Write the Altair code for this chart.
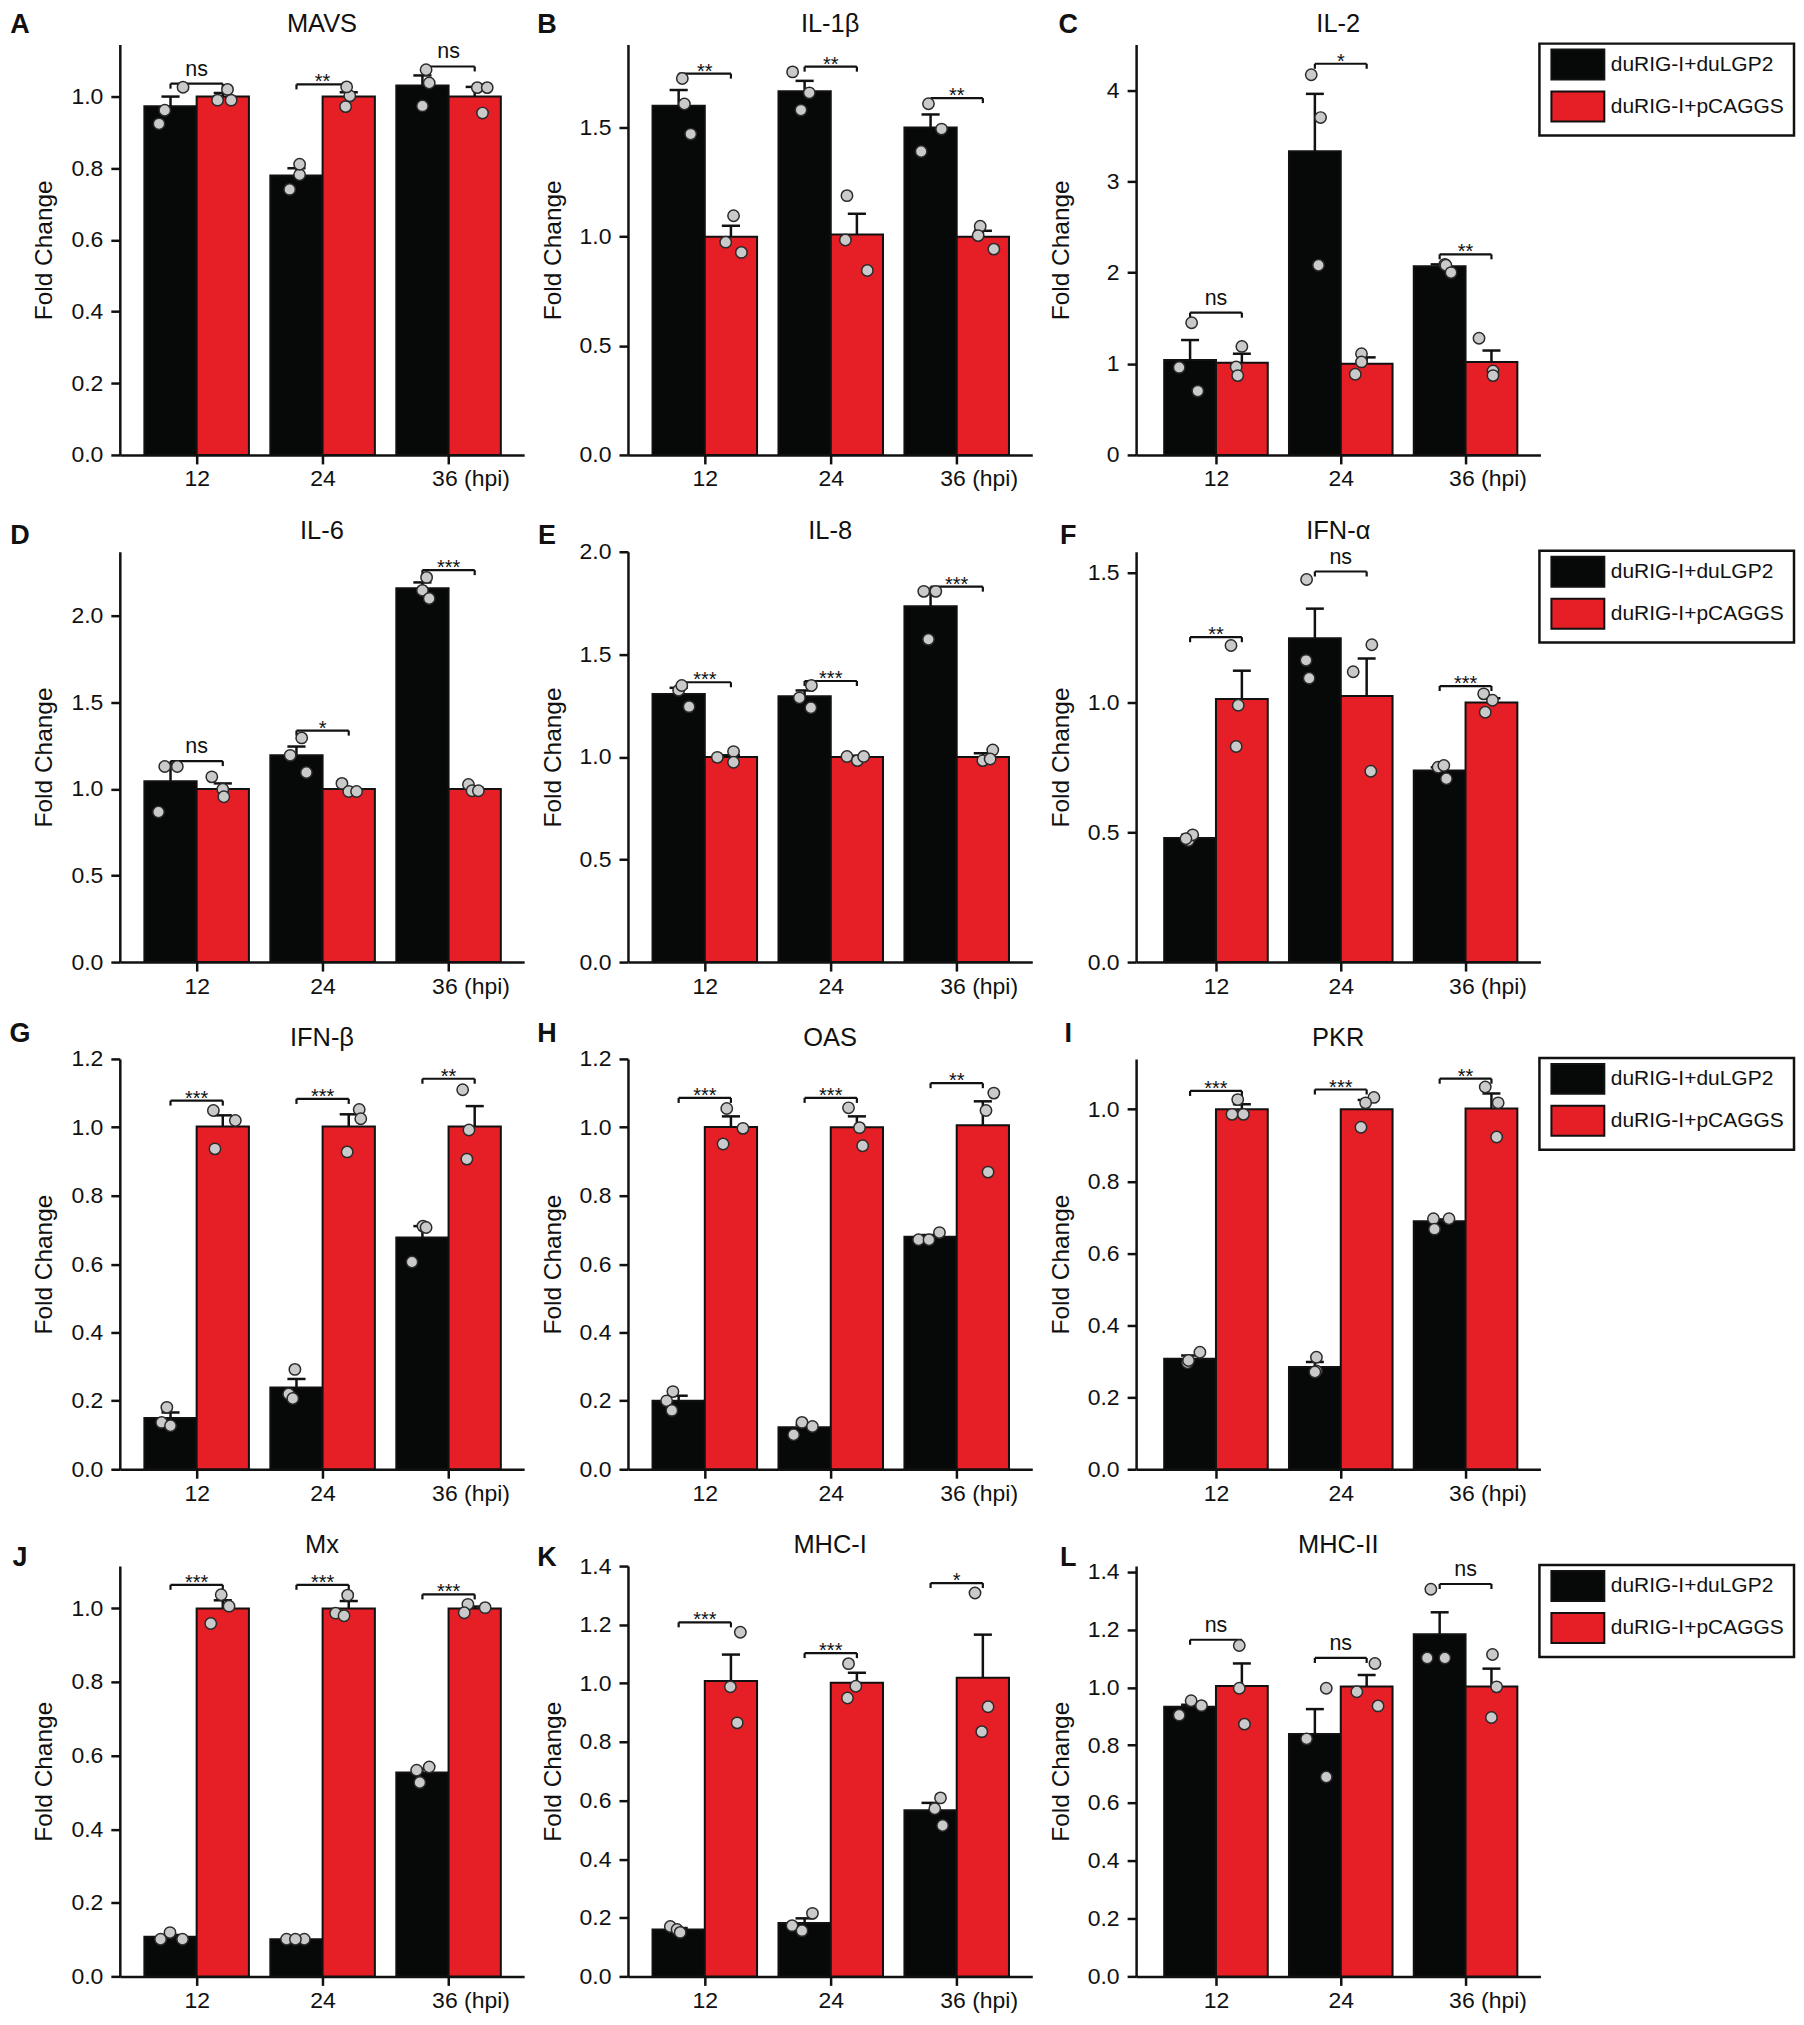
import altair as alt
import pandas as pd

FONT = "Liberation Sans"

letters = ["A", "B", "C", "D", "E", "F", "G", "H", "I", "J", "K", "L"]
genes = ["MAVS", "IL-1β", "IL-2", "IL-6", "IL-8", "IFN-α",
         "IFN-β", "OAS", "PKR", "Mx", "MHC-I", "MHC-II"]
times = ["12", "24", "36 (hpi)"]
series = ["duRIG-I+duLGP2", "duRIG-I+pCAGGS"]

y_max = [1.145, 1.88, 4.5, 2.37, 2.0, 1.58, 1.2, 1.2, 1.14, 1.115, 1.4, 1.42]
y_step = [0.2, 0.5, 1, 0.5, 0.5, 0.5, 0.2, 0.2, 0.2, 0.2, 0.2, 0.2]

mean_black = [
    [0.973, 0.78, 1.031], [1.60, 1.666, 1.50], [1.04, 3.33, 2.07],
    [1.045, 1.194, 2.159], [1.307, 1.296, 1.734], [0.478, 1.247, 0.738],
    [0.15, 0.239, 0.678], [0.20, 0.123, 0.68], [0.307, 0.284, 0.689],
    [0.1075, 0.101, 0.554], [0.16, 0.182, 0.567], [0.933, 0.839, 1.184],
]
sem_black = [
    [0.027, 0.02, 0.028], [0.072, 0.048, 0.06], [0.22, 0.63, 0.02],
    [0.10, 0.051, 0.034], [0.03, 0.028, 0.066], [0.012, 0.114, 0.012],
    [0.016, 0.025, 0.033], [0.015, 0.007, 0.005], [0.009, 0.014, 0.005],
    [0.005, 0.003, 0.01], [0.005, 0.016, 0.025], [0.007, 0.086, 0.076],
]
mean_red = [
    [1.0, 1.0, 1.0], [1.0, 1.01, 1.0], [1.01, 1.0, 1.02],
    [1.0, 1.0, 1.0], [1.0, 1.0, 1.0], [1.013, 1.025, 1.0],
    [1.002, 1.002, 1.002], [1.001, 1.0, 1.006], [1.0, 1.0, 1.002],
    [1.0, 1.0, 1.0], [1.008, 1.002, 1.019], [1.005, 1.003, 1.003],
]
sem_red = [
    [0.01, 0.012, 0.027], [0.05, 0.095, 0.027], [0.10, 0.07, 0.125],
    [0.032, 0.006, 0.006], [0.008, 0.006, 0.018], [0.109, 0.144, 0.016],
    [0.033, 0.036, 0.06], [0.031, 0.032, 0.07], [0.014, 0.026, 0.042],
    [0.022, 0.02, 0.005], [0.09, 0.034, 0.147], [0.078, 0.04, 0.062],
]

# individual replicates (3 per bar)
pts_black = [
    [[0.924, 0.962, 1.026], [0.741, 0.782, 0.811], [0.974, 1.038, 1.075]],
    [[1.725, 1.608, 1.47], [1.755, 1.659, 1.58], [1.609, 1.493, 1.39]],
    [[1.45, 0.96, 0.70], [4.17, 3.70, 2.08], [2.09, 2.08, 2.0]],
    [[0.867, 1.13, 1.13], [1.095, 1.194, 1.295], [2.222, 2.147, 2.10]],
    [[1.245, 1.325, 1.348], [1.24, 1.288, 1.348], [1.573, 1.807, 1.807]],
    [[0.468, 0.49, 0.475], [1.473, 1.162, 1.093], [0.75, 0.757, 0.706]],
    [[0.181, 0.137, 0.127], [0.292, 0.22, 0.207], [0.711, 0.707, 0.606]],
    [[0.227, 0.2, 0.172], [0.137, 0.125, 0.101], [0.671, 0.671, 0.692]],
    [[0.325, 0.296, 0.302], [0.311, 0.273, 0.27], [0.696, 0.696, 0.667]],
    [[0.101, 0.119, 0.101], [0.101, 0.101, 0.101], [0.56, 0.569, 0.527]],
    [[0.17, 0.16, 0.15], [0.215, 0.173, 0.156], [0.609, 0.572, 0.515]],
    [[0.904, 0.954, 0.937], [0.997, 0.822, 0.69], [1.34, 1.102, 1.102]],
]
pts_red = [
    [[0.99, 0.99, 1.02], [0.972, 1.002, 1.027], [0.954, 1.025, 1.025]],
    [[1.096, 0.975, 0.928], [1.188, 0.985, 0.845], [1.048, 1.005, 0.943]],
    [[1.19, 0.965, 0.87], [1.11, 1.02, 0.885], [1.28, 0.92, 0.87]],
    [[1.07, 0.998, 0.955], [1.032, 0.985, 0.985], [1.026, 0.99, 0.99]],
    [[0.998, 1.026, 0.974], [1.002, 0.982, 1.002], [1.034, 0.982, 0.99]],
    [[1.219, 0.989, 0.83], [1.222, 1.118, 0.735], [1.033, 1.008, 0.962]],
    [[1.049, 1.02, 0.937], [1.052, 1.025, 0.928], [1.11, 0.992, 0.907]],
    [[1.055, 0.997, 0.951], [1.057, 0.999, 0.946], [1.10, 1.049, 0.869]],
    [[1.027, 0.986, 0.986], [1.033, 1.018, 0.95], [1.062, 1.018, 0.923]],
    [[1.037, 1.006, 0.959], [1.036, 0.987, 0.98], [1.011, 1.002, 0.988]],
    [[1.174, 0.988, 0.865], [1.067, 0.99, 0.95], [1.308, 0.92, 0.835]],
    [[1.145, 0.997, 0.873], [1.083, 0.985, 0.936], [1.114, 1.002, 0.896]],
]

# horizontal spread of the replicate dots, as a fraction of a bar's width
jit_black = [
    [[-0.22, -0.11, 0.24], [-0.13, 0.06, 0.06], [0, 0.13, 0.07]],
    [[0.07, 0.11, 0.23], [-0.23, 0.09, -0.07], [-0.04, 0.21, -0.18]],
    [[0.03, -0.21, 0.15], [-0.07, 0.11, 0.07], [0.1, 0.12, 0.22]],
    [[-0.23, -0.11, 0.13], [0.19, -0.12, 0.1], [0.08, 0, 0.13]],
    [[0.2, 0, 0.06], [0.12, -0.1, 0.13], [-0.04, -0.13, 0.1]],
    [[-0.03, 0.05, -0.08], [-0.16, -0.17, -0.11], [-0.03, 0.08, 0.13]],
    [[-0.07, -0.17, 0], [-0.03, -0.15, -0.07], [0.01, 0.07, -0.2]],
    [[-0.11, -0.23, -0.13], [-0.05, 0.15, -0.21], [-0.23, -0.03, 0.17]],
    [[0.19, -0.05, -0.03], [0.03, 0.03, 0], [-0.12, 0.18, -0.1]],
    [[-0.19, -0.01, 0.23], [-0.19, 0.15, -0.02], [-0.11, 0.13, -0.05]],
    [[-0.16, -0.03, 0.03], [0.15, -0.24, -0.05], [0.19, 0.08, 0.23]],
    [[-0.21, 0.02, 0.22], [0.22, -0.16, 0.22], [-0.17, -0.24, 0.1]],
]
jit_red = [
    [[-0.1, 0.16, 0.09], [-0.06, 0.02, -0.04], [0.15, 0.05, 0.24]],
    [[0.05, -0.1, 0.2], [-0.19, -0.22, 0.2], [-0.05, -0.09, 0.21]],
    [[0, -0.11, -0.08], [-0.1, -0.1, -0.22], [-0.24, 0.03, 0.03]],
    [[-0.21, 0, 0.02], [-0.13, 0, 0.15], [-0.12, -0.05, 0.07]],
    [[-0.26, 0.05, 0.05], [-0.19, 0.01, 0.13], [0.19, 0, 0.14]],
    [[-0.21, -0.07, -0.11], [0.1, -0.26, 0.08], [-0.15, 0.02, -0.12]],
    [[-0.18, 0.24, -0.15], [0.2, 0.23, -0.03], [-0.23, -0.11, -0.15]],
    [[-0.08, 0.23, -0.15], [-0.16, 0.05, 0.11], [0.21, 0.06, 0.1]],
    [[-0.08, -0.19, 0.03], [0.14, -0.02, -0.11], [-0.12, 0.13, 0.1]],
    [[-0.03, 0.12, -0.23], [-0.02, -0.25, -0.09], [-0.13, 0.2, -0.2]],
    [[0.18, -0.01, 0.12], [-0.16, -0.02, -0.18], [-0.15, 0.1, -0.02]],
    [[-0.05, -0.05, 0.05], [0.16, -0.19, 0.22], [0.02, 0.1, 0]],
]

bracket_y = [
    [1.036, 1.034, 1.084], [1.747, 1.779, 1.635], [1.56, 4.29, 2.2],
    [1.161, 1.337, 2.264], [1.364, 1.37, 1.83], [1.251, 1.504, 1.063],
    [1.078, 1.083, 1.142], [1.086, 1.086, 1.129], [1.051, 1.055, 1.085],
    [1.064, 1.064, 1.038], [1.208, 1.103, 1.342], [1.165, 1.102, 1.358],
]
sig = [
    ["ns", "**", "ns"], ["**", "**", "**"], ["ns", "*", "**"],
    ["ns", "*", "***"], ["***", "***", "***"], ["**", "ns", "***"],
    ["***", "***", "**"], ["***", "***", "**"], ["***", "***", "**"],
    ["***", "***", "***"], ["***", "***", "*"], ["ns", "ns", "ns"],
]

# ---- layout / style -------------------------------------------------------
BAR_W = 0.415
CAP = 0.072
H = 411
W = 405
X_MIN = [-0.61, -0.61, -0.64]
X_MAX = 2.6
LETTER_DX = [-100, -81, -68]
LETTER_DY = [-20, -16, -25, -8]
COLORS = ["#070808", "#E61E25"]
INK = "#111111"


def panel(k):
    r, c = divmod(k, 3)
    w = W
    ymax = y_max[k]
    groups = [(mean_black, sem_black, pts_black, jit_black),
              (mean_red, sem_red, pts_red, jit_red)]
    bar_rows, pt_rows, br_rows, drop_rows = [], [], [], []
    drop = 5.0 * ymax / H
    for t in range(3):
        for s, (means, sems, pts, jit) in enumerate(groups):
            x0 = t - BAR_W + s * BAR_W
            xc = x0 + BAR_W / 2
            m = means[k][t]
            e = sems[k][t]
            bar_rows.append(dict(series=series[s], x0=x0, x1=x0 + BAR_W, xc=xc,
                                 c0=xc - CAP, c1=xc + CAP, mean=m, top=m + e,
                                 base=0.0))
            for j in range(3):
                pt_rows.append(dict(series=series[s],
                                    x=xc + jit[k][t][j] * BAR_W,
                                    y=pts[k][t][j]))
        by = bracket_y[k][t]
        xl, xr = t - BAR_W / 2, t + BAR_W / 2
        br_rows.append(dict(xl=xl, xr=xr, xm=float(t), y=by, label=sig[k][t]))
        drop_rows.append(dict(x=xl, y=by, y2=by - drop))
        drop_rows.append(dict(x=xr, y=by, y2=by - drop))

    bar_df = pd.DataFrame(bar_rows)
    pt_df = pd.DataFrame(pt_rows)
    br_df = pd.DataFrame(br_rows)
    drop_df = pd.DataFrame(drop_rows)

    xs = alt.Scale(domain=[X_MIN[c], X_MAX], nice=False, zero=False)
    ys = alt.Scale(domain=[0, ymax], nice=False, zero=False)
    n_ticks = int(ymax / y_step[k] + 1e-9) + 1
    ticks = [round(i * y_step[k], 3) for i in range(n_ticks)]
    fmt = "d" if y_step[k] >= 1 else ".1f"

    label_expr = (f"datum.value == 0 ? '{times[0]}' : "
                  f"(datum.value == 1 ? '{times[1]}' : '{times[2]}')")
    xaxis = alt.Axis(values=[0, 1, 2], title=None, labelExpr=label_expr,
                     labelOffset={"condition": {"test": "datum.value == 2",
                                                "value": 22}, "value": 0},
                     labelFlush=False, labelOverlap=False, labelPadding=4)
    yaxis = alt.Axis(values=ticks, format=fmt, title="Fold Change",
                     titleX=-75, titleBaseline="middle", labelPadding=8,
                     labelFlush=False, labelOverlap=False)

    def X(field):
        return alt.X(field, type="quantitative", scale=xs, axis=xaxis)

    def Y(field):
        return alt.Y(field, type="quantitative", scale=ys, axis=yaxis)

    color_kw = dict(scale=alt.Scale(domain=series, range=COLORS))
    if c == 2:
        leg = alt.Legend(orient="none", legendX=w - 1, legendY=-1, title=None,
                         direction="vertical",
                         symbolType="M-2.65,-1.5H2.65V1.5H-2.65Z", symbolSize=400,
                         symbolStrokeColor=INK, symbolStrokeWidth=2,
                         symbolOffset=17.5, labelOffset=22, labelLimit=400,
                         labelFont=FONT, labelFontSize=21, labelColor=INK,
                         padding=10, rowPadding=4, strokeColor=INK,
                         fillColor="white", symbolOpacity=1)
        color = alt.Color("series:N", legend=leg, **color_kw)
    else:
        color = alt.Color("series:N", legend=None, **color_kw)

    bars = alt.Chart(bar_df).mark_rect(stroke=INK, strokeWidth=2).encode(
        x=X("x0"), x2=alt.X2("x1"), y=Y("mean"), y2=alt.Y2("base"), color=color,
    )
    err = alt.Chart(bar_df).mark_rule(color=INK, strokeWidth=2.5).encode(
        x=X("xc"), y=Y("mean"), y2=alt.Y2("top"),
    )
    caps = alt.Chart(bar_df).mark_rule(color=INK, strokeWidth=2.5).encode(
        x=X("c0"), x2=alt.X2("c1"), y=Y("top"),
    )
    br_h = alt.Chart(br_df).mark_rule(color=INK, strokeWidth=2.2).encode(
        x=X("xl"), x2=alt.X2("xr"), y=Y("y"),
    )
    br_d = alt.Chart(drop_df).mark_rule(color=INK, strokeWidth=2.2).encode(
        x=X("x"), y=Y("y"), y2=alt.Y2("y2"),
    )
    dots = alt.Chart(pt_df).mark_circle(
        size=130, color="#CACACA", opacity=1, stroke="#2a2a2a", strokeWidth=1.5
    ).encode(x=X("x"), y=Y("y"))
    ns_txt = alt.Chart(br_df).transform_filter(alt.datum.label == "ns").mark_text(
        font=FONT, fontSize=21.5, baseline="alphabetic", dy=-8, color=INK
    ).encode(x=X("xm"), y=Y("y"), text="label:N")
    star_txt = alt.Chart(br_df).transform_filter(alt.datum.label != "ns").mark_text(
        font=FONT, fontSize=20, baseline="alphabetic", dy=4, color=INK
    ).encode(x=X("xm"), y=Y("y"), text="label:N")
    gene_txt = alt.Chart(pd.DataFrame({"t": [genes[k]]})).mark_text(
        font=FONT, fontSize=25.5, baseline="middle", align="center", color=INK
    ).encode(x=alt.value(w / 2), y=alt.value(-21), text="t:N")
    letter_txt = alt.Chart(pd.DataFrame({"t": [letters[k]]})).mark_text(
        font=FONT, fontSize=27, fontWeight="bold", baseline="middle",
        align="center", color=INK
    ).encode(x=alt.value(LETTER_DX[c]), y=alt.value(LETTER_DY[r]), text="t:N")

    return alt.layer(bars, err, caps, br_h, br_d, dots, ns_txt, star_txt,
                     gene_txt, letter_txt).properties(width=w, height=H)


chart = alt.concat(*[panel(k) for k in range(12)], columns=3,
                   spacing={"row": 97, "column": 104}, bounds="flush")
chart = chart.resolve_scale(x="independent", y="independent",
                            color="independent").resolve_legend(color="independent")
chart = chart.properties(padding={"left": 0, "top": 0, "right": 0, "bottom": 0})
chart = chart.configure(font=FONT).configure_view(
    stroke="transparent"
).configure_axis(
    grid=False, domainColor=INK, domainWidth=2.5, tickColor=INK, tickWidth=2.5,
    tickSize=9, labelFont=FONT, labelFontSize=23, labelColor=INK,
    titleFont=FONT, titleFontSize=24.5, titleFontWeight="normal", titleColor=INK,
).configure_legend(strokeWidth=2.5)

chart.save("out.html", embed_options={"renderer": "svg", "actions": False})
